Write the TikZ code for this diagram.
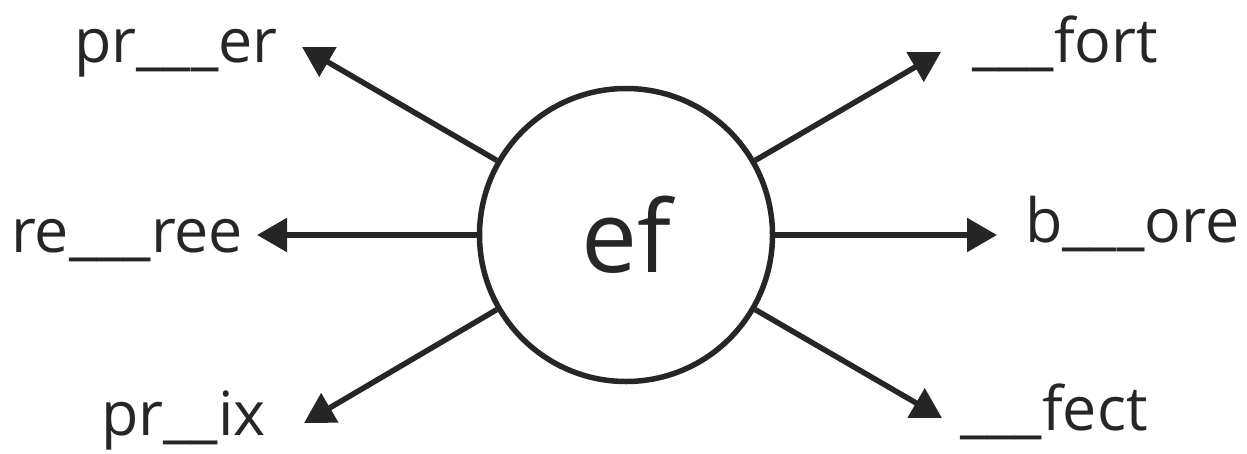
\documentclass[tikz,border=0pt]{standalone}
\usepackage{fontspec}
\setmainfont{Open Sans}
\usetikzlibrary{arrows.meta}
\definecolor{ink}{RGB}{38,38,38}
\begin{document}
\begin{tikzpicture}[x=1pt,y=-1pt,
  every node/.style={text=ink},
  hub/.style={circle,draw=ink,line width=5.5pt,minimum size=293pt,inner sep=0pt,
    font=\fontsize{100}{110}\selectfont},
  spoke/.style={draw=ink,line width=5.5pt,-{Triangle[length=30pt,width=33pt]}},
  word/.style={inner sep=0pt,font=\fontsize{61}{66}\selectfont}]
\useasboundingbox (0,0) rectangle (1247,453);
\node[hub] (c) at (626,235) {ef};
\coordinate (tul) at (302,47);
\coordinate (tl) at (257,235);
\coordinate (tll) at (304,423);
\coordinate (tur) at (941,52);
\coordinate (tr) at (997,235);
\coordinate (tlr) at (942,418);
\draw[spoke] (c.150) -- (tul);
\draw[spoke] (c.180) -- (tl);
\draw[spoke] (c.210) -- (tll);
\draw[spoke] (c.30) -- (tur);
\draw[spoke] (c.0) -- (tr);
\draw[spoke] (c.-30) -- (tlr);
\node[word,anchor=base west] (w1) at (74,62) {pr\_\_\_er};
\node[word,anchor=base west] (w2) at (11,252) {re\_\_\_ree};
\node[word,anchor=base west] (w3) at (101,435) {pr\_\_ix};
\node[word,anchor=base west] (w4) at (972,62) {\_\_\_fort};
\node[word,anchor=base west] (w5) at (1025,242) {b\_\_\_ore};
\node[word,anchor=base west] (w6) at (960,430) {\_\_\_fect};
\end{tikzpicture}
\end{document}
